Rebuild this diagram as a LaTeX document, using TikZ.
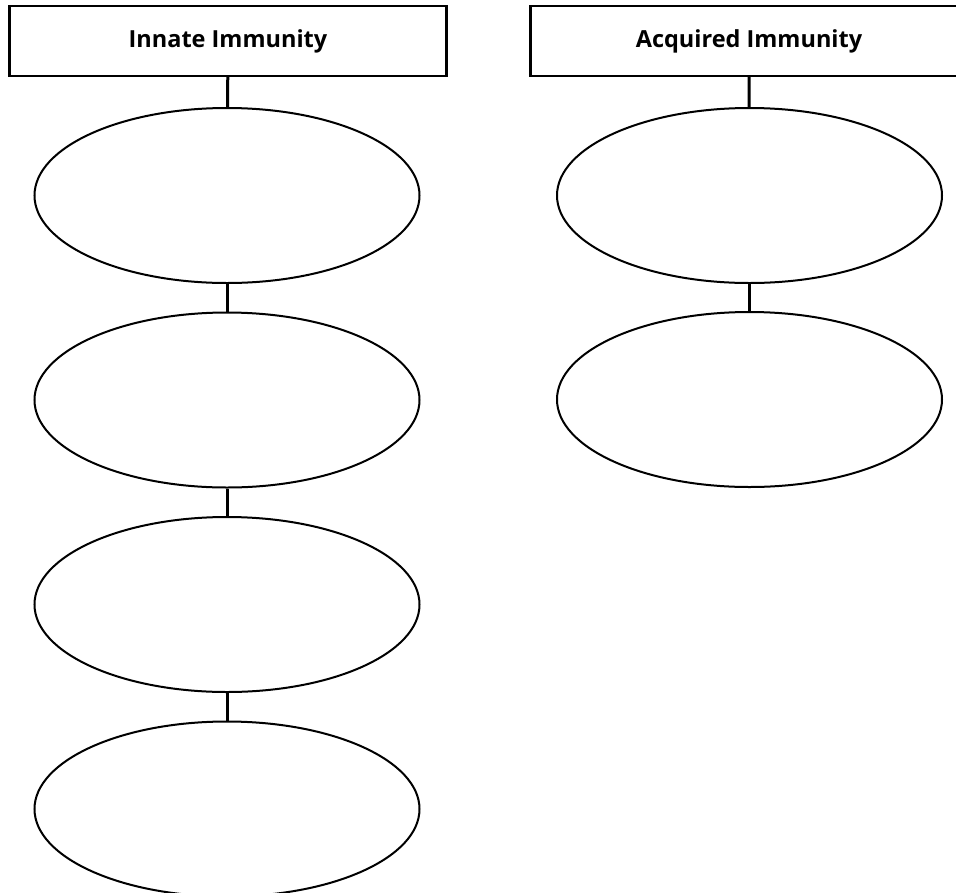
\documentclass[tikz,border=0pt]{standalone}
\usepackage{fontspec}
\setmainfont{Open Sans}
\usetikzlibrary{shapes.geometric}

\tikzset{
  headbox/.style={draw, line width=2.2pt, minimum width=437pt, minimum height=70pt,
    inner sep=0pt, font=\bfseries\fontsize{23.5}{27}\selectfont},
  blank/.style={draw, ellipse, line width=2pt, minimum width=385pt,
    minimum height=175pt, inner sep=0pt},
  link/.style={line width=3pt}
}

\begin{document}
\begin{tikzpicture}[x=1pt, y=-1pt]
  \clip (0,0) rectangle (956,892);
  \node[headbox] (innate) at (228,41) {Innate Immunity};
  \node[headbox] (acquired) at (749,41) {Acquired Immunity};
  % innate column
  \foreach \i in {1,...,4}
    \node[blank] (in\i) at (227,{195.5+204.5*(\i-1)}) {};
  \draw[link] (innate) -- (in1);
  \foreach \i/\j in {1/2, 2/3, 3/4}
    \draw[link] (in\i) -- (in\j);
  % acquired column
  \node[blank] (ac1) at (749.5,195.5) {};
  \node[blank] (ac2) at (749.5,399.5) {};
  \draw[link] (acquired) -- (ac1);
  \draw[link] (ac1) -- (ac2);
\end{tikzpicture}
\end{document}
